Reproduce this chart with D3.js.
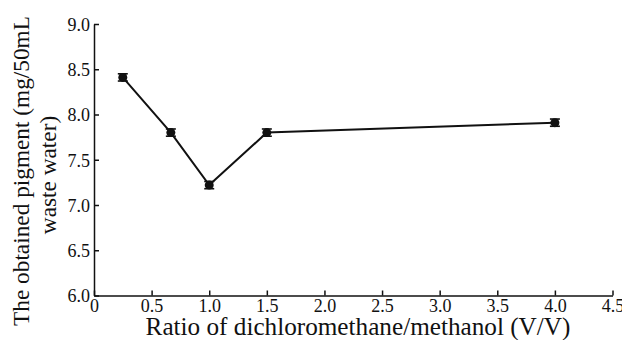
<!DOCTYPE html>
<html><head><meta charset="utf-8">
<script src="https://cdn.jsdelivr.net/npm/d3@7/dist/d3.min.js"></script>
<style>body{margin:0;background:#fff}svg{display:block}svg text{font-family:"Liberation Serif","DejaVu Serif",serif !important;fill:#111}</style>
</head><body>
<svg id="c" width="622" height="340"></svg>
<script>
const ratios = [0.25, 0.667, 1.0, 1.5, 4.0];
const pigment = [8.41, 7.80, 7.22, 7.80, 7.91];
const errors = [0.04, 0.04, 0.04, 0.04, 0.04];
const xTicks = [0, 0.5, 1.0, 1.5, 2.0, 2.5, 3.0, 3.5, 4.0, 4.5];
const yTicks = [6.0, 6.5, 7.0, 7.5, 8.0, 8.5, 9.0];

const svg = d3.select("#c");
const x = d3.scaleLinear().domain([0, 4.5]).range([94, 612.5]);
const y = d3.scaleLinear().domain([6, 9]).range([295.5, 24]);

const fmt = d => d === 0 ? "0" : d3.format(".1f")(d);

const gx = svg.append("g").attr("transform", "translate(0,295.5)")
  .call(d3.axisBottom(x).tickValues(xTicks).tickFormat(fmt).tickSizeInner(-5).tickSizeOuter(0).tickPadding(4));
const gy = svg.append("g").attr("transform", "translate(94,0)")
  .call(d3.axisLeft(y).tickValues(yTicks).tickFormat(fmt).tickSizeInner(-5).tickSizeOuter(0).tickPadding(3));
[gx, gy].forEach(g => {
  g.selectAll("path,line").attr("stroke", "#111").attr("stroke-width", 1.5);
  g.selectAll("text").attr("font-size", 18).attr("fill", "#111");
});
gx.selectAll("text").attr("y", 0).attr("dy", "16");
gy.selectAll("text").attr("x", -4).attr("dy", "0.35em");

const line = d3.line().x((d, i) => x(ratios[i])).y(d => y(d));
svg.append("path").datum(pigment).attr("d", line)
  .attr("fill", "none").attr("stroke", "#111").attr("stroke-width", 2);

const pts = svg.append("g");
pigment.forEach((v, i) => {
  const cx = x(ratios[i]);
  const e = errors[i];
  pts.append("line").attr("x1", cx).attr("x2", cx).attr("y1", y(v + e)).attr("y2", y(v - e)).attr("stroke", "#111").attr("stroke-width", 1.5);
  [v + e, v - e].forEach(t => pts.append("line").attr("x1", cx - 5).attr("x2", cx + 5).attr("y1", y(t)).attr("y2", y(t)).attr("stroke", "#111").attr("stroke-width", 1.6));
  pts.append("circle").attr("cx", cx).attr("cy", y(v)).attr("r", 4.5).attr("fill", "#111");
});

function fit(t, w) {
  const l = t.node().getComputedTextLength();
  const fs = parseFloat(t.attr("font-size"));
  t.attr("font-size", fs * w / l);
}
const xt = svg.append("text").attr("x", 358).attr("y", 335).attr("text-anchor", "middle").attr("font-size", 20)
  .text("Ratio of dichloromethane/methanol (V/V)");
fit(xt, 425);
const yl1 = svg.append("text").attr("transform", "translate(29,171) rotate(-90)").attr("text-anchor", "middle").attr("font-size", 20)
  .text("The obtained pigment (mg/50mL");
fit(yl1, 310);
const yl2 = svg.append("text").attr("transform", "translate(56,175) rotate(-90)").attr("text-anchor", "middle").attr("font-size", 20)
  .text("waste water)");
yl2.attr("font-size", yl1.attr("font-size"));
</script>
</body></html>
